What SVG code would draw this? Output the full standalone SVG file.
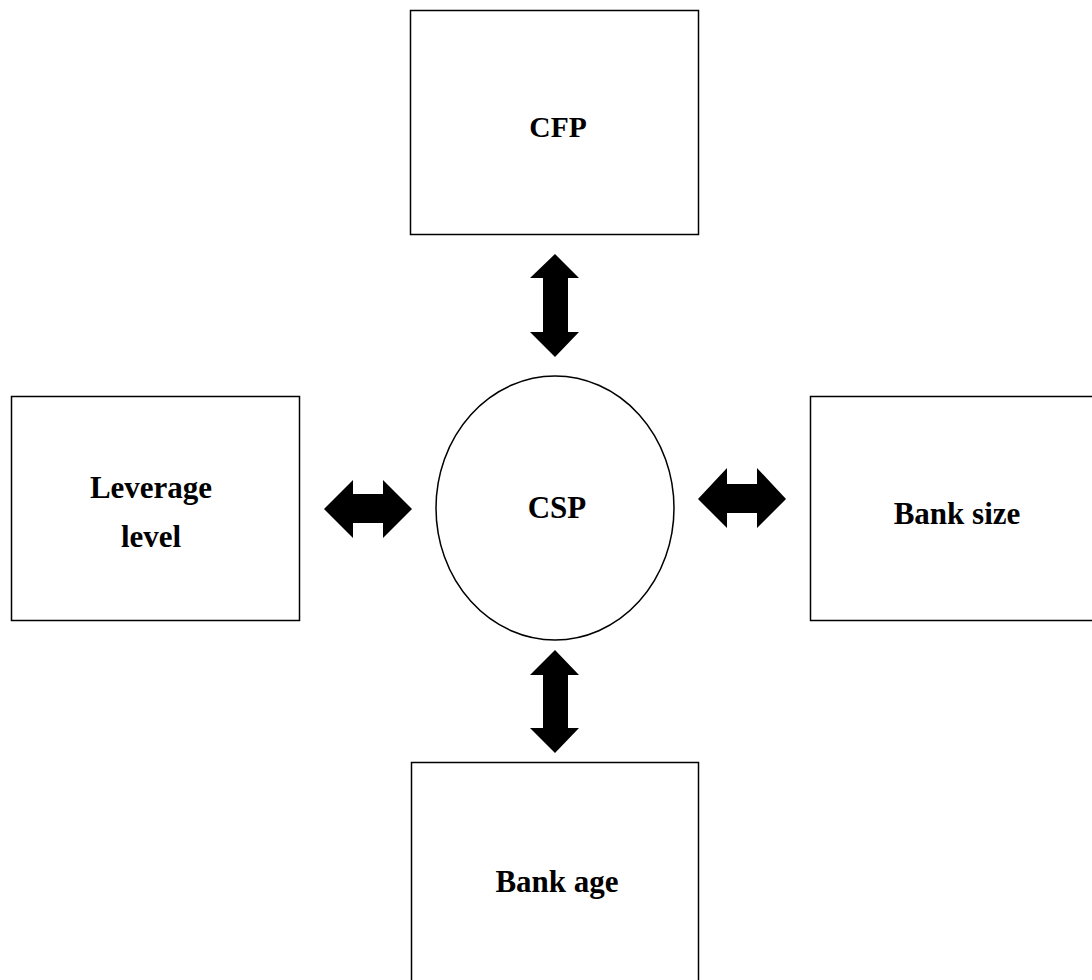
<svg xmlns="http://www.w3.org/2000/svg" width="1092" height="980" viewBox="0 0 1092 980">
<style>
.box{fill:#fff;stroke:#000;stroke-width:1.5}
.lbl{font-family:"Liberation Serif","Times New Roman",serif;font-weight:bold;font-size:31px;fill:#000;text-anchor:middle}
.arr{fill:#000;stroke:none}
</style>
<rect width="1092" height="980" fill="#fff"/>
<g id="cfp"><rect class="box" x="410.5" y="10.5" width="288" height="224"/><text class="lbl" x="558" y="137" style="font-size:29.5px">CFP</text></g>
<g id="leverage"><rect class="box" x="11.5" y="396.5" width="288" height="224"/><text class="lbl" x="151" y="498">Leverage</text><text class="lbl" x="151" y="547">level</text></g>
<g id="banksize"><rect class="box" x="810.5" y="396.5" width="290" height="224"/><text class="lbl" x="957" y="524">Bank size</text></g>
<g id="bankage"><rect class="box" x="411.5" y="762.5" width="287" height="230"/><text class="lbl" x="557" y="892">Bank age</text></g>
<g id="csp"><ellipse class="box" cx="555" cy="508" rx="119" ry="132"/><text class="lbl" x="557" y="518">CSP</text></g>
<g id="connectors">
<polygon class="arr" points="555,254 579,278 568,278 568,332 579,332 555,357 530,332 543,332 543,278 530,278"/>
<polygon class="arr" points="555,650 579,675 568,675 568,728 579,728 555,753 530,728 543,728 543,675 530,675"/>
<polygon class="arr" points="324,509 353,480 353,494 383,494 383,480 412,509 383,538 383,523 353,523 353,538"/>
<polygon class="arr" points="698,499 727,468 727,484 757,484 757,468 786,499 757,528 757,513 727,513 727,528"/>
</g>
</svg>
